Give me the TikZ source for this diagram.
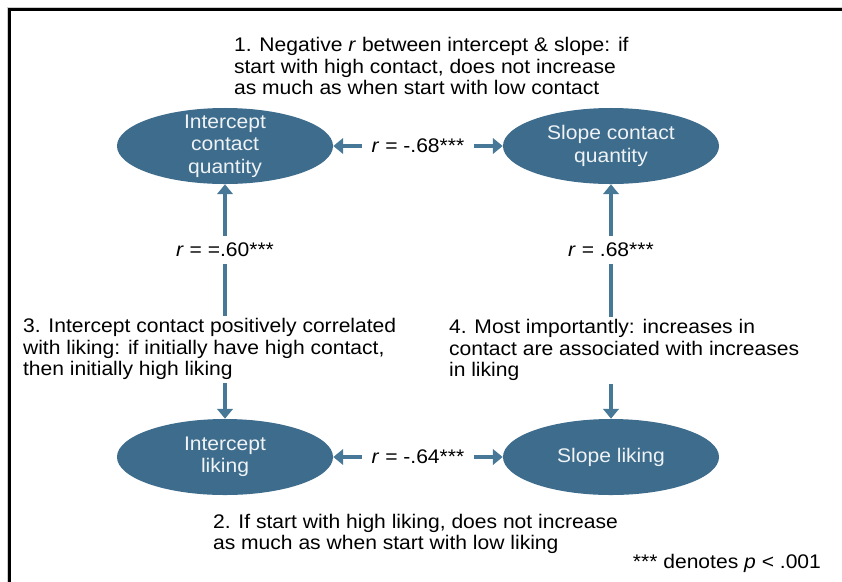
\documentclass[tikz,border=0pt]{standalone}
\usepackage{fontspec}
\setmainfont[FakeStretch=1.07]{Liberation Sans}
\usepackage{xcolor}
\definecolor{slate}{RGB}{62,108,140}
\definecolor{slateline}{RGB}{72,120,152}
\usepackage{tikz}
\usetikzlibrary{arrows.meta,positioning,backgrounds,shapes.geometric}

\begin{document}
\begin{tikzpicture}[
  x=0.025cm, y=-0.025cm,
  est/.style={ellipse,fill=slate,text=white!92!slate,font=\fontsize{14}{16}\selectfont,
              minimum width=5.4cm,minimum height=1.9cm,
              inner xsep=0pt,inner ysep=-9pt,align=center},
  note/.style={font=\fontsize{14}{15.3}\selectfont,align=left,fill=white,inner sep=2pt},
  rlab/.style={font=\fontsize{14}{15.3}\selectfont,fill=white,inner xsep=7pt,inner ysep=5pt},
  link/.style={draw=slateline,line width=3.2pt,
               {Triangle[length=7pt,width=11pt]}-{Triangle[length=7pt,width=11pt]}},
]
  \useasboundingbox (0,0) rectangle (842,581);

  % frame
  \draw[black!20,line width=3.5pt] (9,600) |- (860,9);
  \draw[black,line width=1.8pt] (9.5,600) |- (860,9.5);

  \node[est](ICQ) at (225,146) {Intercept\\contact\\quantity};
  \node[est](SCQ) at (611,146) {Slope contact\\quantity};
  \node[est](IL)  at (225,457) {Intercept\\liking};
  \node[est](SL)  at (611,457) {Slope liking};

  \node[note,anchor=west](N1) at (231,66)  {1. Negative \textit{r} between intercept \& slope: if\\start with high contact, does not increase\\as much as when start with low contact};
  \node[note,anchor=west](N3) at (20,349)  {3. Intercept contact positively correlated\\with liking: if initially have high contact,\\then initially high liking};
  \node[note,anchor=west](N4) at (446,350) {4. Most importantly: increases in\\contact are associated with increases\\in liking};
  \node[note,anchor=west](N2) at (210,534) {2. If start with high liking, does not increase\\as much as when start with low liking};
  \node[note,anchor=east](FN) at (824,563) {*** denotes \textit{p} < .001};

  \begin{scope}[on background layer]
    \draw[link] (ICQ) -- node[rlab]{\textit{r} = -.68***} (SCQ);
    \draw[link] (IL)  -- node[rlab]{\textit{r} = -.64***} (SL);
    \draw[link] (ICQ) -- node[rlab,pos=0.28]{\textit{r} = =.60***} (IL);
    \draw[link] (SCQ) -- node[rlab,pos=0.28]{\textit{r} = .68***} (SL);
  \end{scope}

\end{tikzpicture}
\end{document}
